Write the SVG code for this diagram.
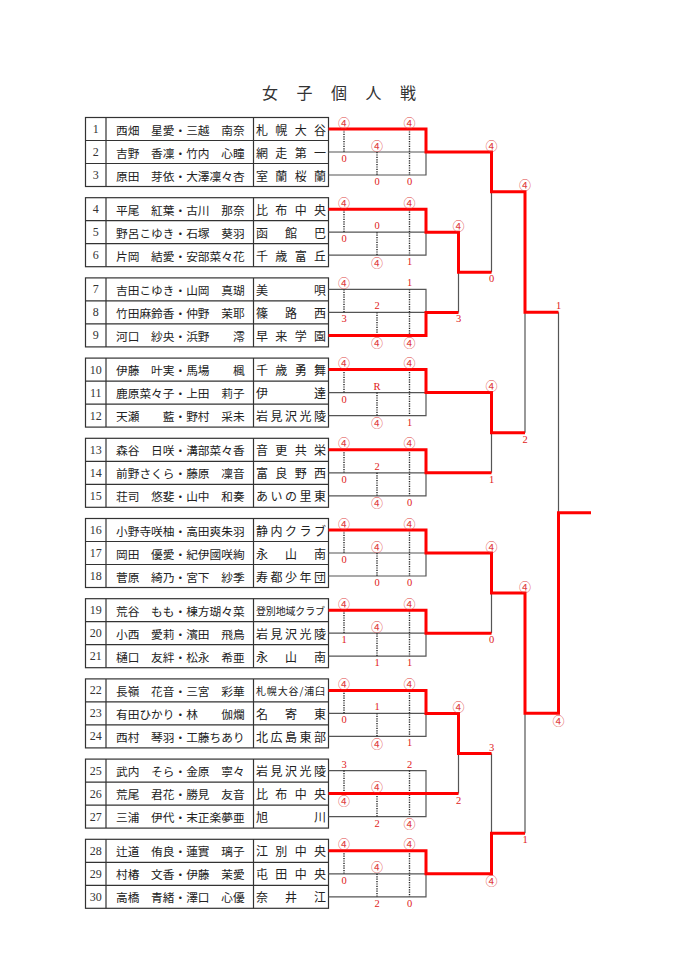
<svg xmlns="http://www.w3.org/2000/svg" width="678" height="960" viewBox="0 0 678 960">
<style>
.title{font-family:"Noto Sans CJK JP","Noto Sans CJK SC",sans-serif;font-size:16px;fill:#333;text-anchor:middle;dominant-baseline:central}
.tb{fill:none;stroke:#333;stroke-width:1.2}
.n{font-family:"Liberation Serif",serif;font-size:12px;fill:#333;text-anchor:middle;dominant-baseline:central}
.t{font-family:"Noto Sans CJK JP","Noto Sans CJK SC",sans-serif;font-size:11.7px;fill:#222;dominant-baseline:central}
.sc{font-family:"Noto Sans CJK JP","Noto Sans CJK SC",sans-serif;font-size:12px;fill:#222;dominant-baseline:central}
.sm{font-size:10px}
.g{fill:none;stroke:#555;stroke-width:1.2}
.r{fill:none;stroke:#f00;stroke-width:3;stroke-linejoin:miter}
.d{fill:none;stroke:#222;stroke-width:1.4;stroke-dasharray:1.2 1.2}
.s{font-family:"Liberation Serif","Noto Sans CJK JP",serif;font-size:10.5px;fill:#e02020;text-anchor:middle;dominant-baseline:central}
.s.c{font-family:"Noto Sans CJK JP",sans-serif;font-size:12px;fill:#e04040}
</style>
<rect width="678" height="960" fill="#fff"/>
<text class="title" x="270 304.5 339 373.5 408" y="92">女子個人戦</text>

<g id="pool-1">
<rect class="tb" x="85.5" y="117.5" width="243" height="69"/>
<path class="tb" d="M106 117.5V186.5M253.5 117.5V186.5M85.5 140.5H328.5M85.5 163.5H328.5"/>
<g id="e1"><text class="n" x="95.8" y="129">1</text><text class="t" x="116" y="129">西畑　星愛・三越　南奈</text><text class="sc" x="256" y="129" textLength="70" lengthAdjust="spacing">札幌大谷</text></g>
<g id="e2"><text class="n" x="95.8" y="152">2</text><text class="t" x="116" y="152">吉野　香凜・竹内　心瞳</text><text class="sc" x="256" y="152" textLength="70" lengthAdjust="spacing">網走第一</text></g>
<g id="e3"><text class="n" x="95.8" y="175">3</text><text class="t" x="116" y="175">原田　芽依・大澤凜々杏</text><text class="sc" x="256" y="175" textLength="70" lengthAdjust="spacing">室蘭桜蘭</text></g>
</g>

<g id="pool-2">
<rect class="tb" x="85.5" y="197.7" width="243" height="69"/>
<path class="tb" d="M106 197.7V266.7M253.5 197.7V266.7M85.5 220.7H328.5M85.5 243.7H328.5"/>
<g id="e4"><text class="n" x="95.8" y="209.2">4</text><text class="t" x="116" y="209.2">平尾　紅葉・古川　那奈</text><text class="sc" x="256" y="209.2" textLength="70" lengthAdjust="spacing">比布中央</text></g>
<g id="e5"><text class="n" x="95.8" y="232.2">5</text><text class="t" x="116" y="232.2">野呂こゆき・石塚　葵羽</text><text class="sc" x="256" y="232.2" textLength="70" lengthAdjust="spacing">函館巴</text></g>
<g id="e6"><text class="n" x="95.8" y="255.2">6</text><text class="t" x="116" y="255.2">片岡　結愛・安部菜々花</text><text class="sc" x="256" y="255.2" textLength="70" lengthAdjust="spacing">千歳富丘</text></g>
</g>

<g id="pool-3">
<rect class="tb" x="85.5" y="277.9" width="243" height="69"/>
<path class="tb" d="M106 277.9V346.9M253.5 277.9V346.9M85.5 300.9H328.5M85.5 323.9H328.5"/>
<g id="e7"><text class="n" x="95.8" y="289.4">7</text><text class="t" x="116" y="289.4">吉田こゆき・山岡　真瑚</text><text class="sc" x="256" y="289.4" textLength="70" lengthAdjust="spacing">美唄</text></g>
<g id="e8"><text class="n" x="95.8" y="312.4">8</text><text class="t" x="116" y="312.4">竹田麻鈴香・仲野　茉耶</text><text class="sc" x="256" y="312.4" textLength="70" lengthAdjust="spacing">篠路西</text></g>
<g id="e9"><text class="n" x="95.8" y="335.4">9</text><text class="t" x="116" y="335.4">河口　紗央・浜野　　澪</text><text class="sc" x="256" y="335.4" textLength="70" lengthAdjust="spacing">早来学園</text></g>
</g>

<g id="pool-4">
<rect class="tb" x="85.5" y="358.1" width="243" height="69"/>
<path class="tb" d="M106 358.1V427.1M253.5 358.1V427.1M85.5 381.1H328.5M85.5 404.1H328.5"/>
<g id="e10"><text class="n" x="95.8" y="369.6">10</text><text class="t" x="116" y="369.6">伊藤　叶実・馬場　　楓</text><text class="sc" x="256" y="369.6" textLength="70" lengthAdjust="spacing">千歳勇舞</text></g>
<g id="e11"><text class="n" x="95.8" y="392.6">11</text><text class="t" x="116" y="392.6">鹿原菜々子・上田　莉子</text><text class="sc" x="256" y="392.6" textLength="70" lengthAdjust="spacing">伊達</text></g>
<g id="e12"><text class="n" x="95.8" y="415.6">12</text><text class="t" x="116" y="415.6">天瀬　　藍・野村　采未</text><text class="sc" x="256" y="415.6" textLength="70" lengthAdjust="spacing">岩見沢光陵</text></g>
</g>

<g id="pool-5">
<rect class="tb" x="85.5" y="438.3" width="243" height="69"/>
<path class="tb" d="M106 438.3V507.3M253.5 438.3V507.3M85.5 461.3H328.5M85.5 484.3H328.5"/>
<g id="e13"><text class="n" x="95.8" y="449.8">13</text><text class="t" x="116" y="449.8">森谷　日咲・溝部菜々香</text><text class="sc" x="256" y="449.8" textLength="70" lengthAdjust="spacing">音更共栄</text></g>
<g id="e14"><text class="n" x="95.8" y="472.8">14</text><text class="t" x="116" y="472.8">前野さくら・藤原　凜音</text><text class="sc" x="256" y="472.8" textLength="70" lengthAdjust="spacing">富良野西</text></g>
<g id="e15"><text class="n" x="95.8" y="495.8">15</text><text class="t" x="116" y="495.8">荘司　悠斐・山中　和奏</text><text class="sc" x="256" y="495.8" textLength="70" lengthAdjust="spacing">あいの里東</text></g>
</g>

<g id="pool-6">
<rect class="tb" x="85.5" y="518.5" width="243" height="69"/>
<path class="tb" d="M106 518.5V587.5M253.5 518.5V587.5M85.5 541.5H328.5M85.5 564.5H328.5"/>
<g id="e16"><text class="n" x="95.8" y="530">16</text><text class="t" x="116" y="530">小野寺咲柚・高田爽朱羽</text><text class="sc" x="256" y="530" textLength="70" lengthAdjust="spacing">静内クラブ</text></g>
<g id="e17"><text class="n" x="95.8" y="553">17</text><text class="t" x="116" y="553">岡田　優愛・紀伊國咲絢</text><text class="sc" x="256" y="553" textLength="70" lengthAdjust="spacing">永山南</text></g>
<g id="e18"><text class="n" x="95.8" y="576">18</text><text class="t" x="116" y="576">菅原　綺乃・宮下　紗季</text><text class="sc" x="256" y="576" textLength="70" lengthAdjust="spacing">寿都少年団</text></g>
</g>

<g id="pool-7">
<rect class="tb" x="85.5" y="598.7" width="243" height="69"/>
<path class="tb" d="M106 598.7V667.7M253.5 598.7V667.7M85.5 621.7H328.5M85.5 644.7H328.5"/>
<g id="e19"><text class="n" x="95.8" y="610.2">19</text><text class="t" x="116" y="610.2">荒谷　もも・棟方瑚々菜</text><text class="sc sm" x="256" y="610.2" textLength="69" lengthAdjust="spacing">登別地域クラブ</text></g>
<g id="e20"><text class="n" x="95.8" y="633.2">20</text><text class="t" x="116" y="633.2">小西　愛莉・濱田　飛鳥</text><text class="sc" x="256" y="633.2" textLength="70" lengthAdjust="spacing">岩見沢光陵</text></g>
<g id="e21"><text class="n" x="95.8" y="656.2">21</text><text class="t" x="116" y="656.2">樋口　友絆・松永　希亜</text><text class="sc" x="256" y="656.2" textLength="70" lengthAdjust="spacing">永山南</text></g>
</g>

<g id="pool-8">
<rect class="tb" x="85.5" y="678.9" width="243" height="69"/>
<path class="tb" d="M106 678.9V747.9M253.5 678.9V747.9M85.5 701.9H328.5M85.5 724.9H328.5"/>
<g id="e22"><text class="n" x="95.8" y="690.4">22</text><text class="t" x="116" y="690.4">長嶺　花音・三宮　彩華</text><text class="sc sm" x="256" y="690.4" textLength="69" lengthAdjust="spacing">札幌大谷/浦臼</text></g>
<g id="e23"><text class="n" x="95.8" y="713.4">23</text><text class="t" x="116" y="713.4">有田ひかり・林　　伽爛</text><text class="sc" x="256" y="713.4" textLength="70" lengthAdjust="spacing">名寄東</text></g>
<g id="e24"><text class="n" x="95.8" y="736.4">24</text><text class="t" x="116" y="736.4">西村　琴羽・工藤ちあり</text><text class="sc" x="256" y="736.4" textLength="70" lengthAdjust="spacing">北広島東部</text></g>
</g>

<g id="pool-9">
<rect class="tb" x="85.5" y="759.1" width="243" height="69"/>
<path class="tb" d="M106 759.1V828.1M253.5 759.1V828.1M85.5 782.1H328.5M85.5 805.1H328.5"/>
<g id="e25"><text class="n" x="95.8" y="770.6">25</text><text class="t" x="116" y="770.6">武内　そら・金原　寧々</text><text class="sc" x="256" y="770.6" textLength="70" lengthAdjust="spacing">岩見沢光陵</text></g>
<g id="e26"><text class="n" x="95.8" y="793.6">26</text><text class="t" x="116" y="793.6">荒尾　君花・勝見　友音</text><text class="sc" x="256" y="793.6" textLength="70" lengthAdjust="spacing">比布中央</text></g>
<g id="e27"><text class="n" x="95.8" y="816.6">27</text><text class="t" x="116" y="816.6">三浦　伊代・末正楽夢亜</text><text class="sc" x="256" y="816.6" textLength="70" lengthAdjust="spacing">旭川</text></g>
</g>

<g id="pool-10">
<rect class="tb" x="85.5" y="839.3" width="243" height="69"/>
<path class="tb" d="M106 839.3V908.3M253.5 839.3V908.3M85.5 862.3H328.5M85.5 885.3H328.5"/>
<g id="e28"><text class="n" x="95.8" y="850.8">28</text><text class="t" x="116" y="850.8">辻道　侑良・蓮實　璃子</text><text class="sc" x="256" y="850.8" textLength="70" lengthAdjust="spacing">江別中央</text></g>
<g id="e29"><text class="n" x="95.8" y="873.8">29</text><text class="t" x="116" y="873.8">村椿　文香・伊藤　茉愛</text><text class="sc" x="256" y="873.8" textLength="70" lengthAdjust="spacing">屯田中央</text></g>
<g id="e30"><text class="n" x="95.8" y="896.8">30</text><text class="t" x="116" y="896.8">高橋　青緒・澤口　心優</text><text class="sc" x="256" y="896.8" textLength="70" lengthAdjust="spacing">奈井江</text></g>
</g>

<g id="connectors">
<path class="g" d="M328.5 129H426V175H328.5M328.5 152H426
M328.5 209.2H426V255.2H328.5M328.5 232.2H426
M328.5 289.4H426V335.4H328.5M328.5 312.4H426
M328.5 369.6H426V415.6H328.5M328.5 392.6H426
M328.5 449.8H426V495.8H328.5M328.5 472.8H426
M328.5 530H426V576H328.5M328.5 553H426
M328.5 610.2H426V656.2H328.5M328.5 633.2H426
M328.5 690.4H426V736.4H328.5M328.5 713.4H426
M328.5 770.6H426V816.6H328.5M328.5 793.6H426
M328.5 850.8H426V896.8H328.5M328.5 873.8H426
M458.5 232.2V312.4M491.5 152V272.3M491.5 392.6V472.8M525 191.7V432.7M558.5 312.2V713.2
M491.5 553V633.2M458.5 713.4V793.6M491.5 753.5V873.8M525 593.1V833.3"/>
<path class="d" d="M344 129V152M377 152V175M409.5 129V175
M344 209.2V232.2M377 232.2V255.2M409.5 209.2V255.2
M344 289.4V312.4M377 312.4V335.4M409.5 289.4V335.4
M344 369.6V392.6M377 392.6V415.6M409.5 369.6V415.6
M344 449.8V472.8M377 472.8V495.8M409.5 449.8V495.8
M344 530V553M377 553V576M409.5 530V576
M344 610.2V633.2M377 633.2V656.2M409.5 610.2V656.2
M344 690.4V713.4M377 713.4V736.4M409.5 690.4V736.4
M344 770.6V793.6M377 793.6V816.6M409.5 770.6V816.6
M344 850.8V873.8M377 873.8V896.8M409.5 850.8V896.8"/>
<path class="r" d="M328.5 129H426V152H491.5V191.7H525V312.2H558.5"/>
<path class="r" d="M328.5 209.2H426V232.2H458.5V272.3H491.5"/>
<path class="r" d="M328.5 335.4H426V312.4H458.5"/>
<path class="r" d="M328.5 369.6H426V392.6H491.5V432.7H525"/>
<path class="r" d="M328.5 449.8H426V472.8H491.5"/>
<path class="r" d="M328.5 530H426V553H491.5V593.1H525V713.2H558.5V512.7H591"/>
<path class="r" d="M328.5 610.2H426V633.2H491.5"/>
<path class="r" d="M328.5 690.4H426V713.4H458.5V753.5H491.5"/>
<path class="r" d="M328.5 793.6H458.5"/>
<path class="r" d="M328.5 850.8H426V873.8H491.5V833.3H525"/>
</g>

<g id="scores">
<text class="s c" x="344" y="122">④</text><text class="s" x="344" y="158.5">0</text><text class="s c" x="377" y="145">④</text><text class="s" x="377" y="181.5">0</text><text class="s c" x="409.5" y="122">④</text><text class="s" x="409.5" y="181.5">0</text>
<text class="s c" x="344" y="202.2">④</text><text class="s" x="344" y="238.7">0</text><text class="s" x="377" y="225.7">0</text><text class="s c" x="377" y="262.2">④</text><text class="s c" x="409.5" y="202.2">④</text><text class="s" x="409.5" y="261.7">1</text>
<text class="s c" x="344" y="282.4">④</text><text class="s" x="344" y="318.9">3</text><text class="s" x="377" y="305.9">2</text><text class="s c" x="377" y="342.4">④</text><text class="s" x="409.5" y="282.9">1</text><text class="s c" x="409.5" y="342.4">④</text>
<text class="s c" x="344" y="362.6">④</text><text class="s" x="344" y="399.1">0</text><text class="s" x="377" y="386.1">R</text><text class="s c" x="377" y="422.6">④</text><text class="s c" x="409.5" y="362.6">④</text><text class="s" x="409.5" y="422.1">1</text>
<text class="s c" x="344" y="442.8">④</text><text class="s" x="344" y="479.3">0</text><text class="s" x="377" y="466.3">2</text><text class="s c" x="377" y="502.8">④</text><text class="s c" x="409.5" y="442.8">④</text><text class="s" x="409.5" y="502.3">0</text>
<text class="s c" x="344" y="523">④</text><text class="s" x="344" y="559.5">0</text><text class="s c" x="377" y="546">④</text><text class="s" x="377" y="582.5">0</text><text class="s c" x="409.5" y="523">④</text><text class="s" x="409.5" y="582.5">0</text>
<text class="s c" x="344" y="603.2">④</text><text class="s" x="344" y="639.7">1</text><text class="s c" x="377" y="626.2">④</text><text class="s" x="377" y="662.7">1</text><text class="s c" x="409.5" y="603.2">④</text><text class="s" x="409.5" y="662.7">1</text>
<text class="s c" x="344" y="683.4">④</text><text class="s" x="344" y="719.9">0</text><text class="s" x="377" y="706.9">1</text><text class="s c" x="377" y="743.4">④</text><text class="s c" x="409.5" y="683.4">④</text><text class="s" x="409.5" y="742.9">1</text>
<text class="s" x="344" y="764.1">3</text><text class="s c" x="344" y="800.6">④</text><text class="s c" x="377" y="786.6">④</text><text class="s" x="377" y="823.1">2</text><text class="s" x="409.5" y="764.1">2</text><text class="s c" x="409.5" y="823.6">④</text>
<text class="s c" x="344" y="843.8">④</text><text class="s" x="344" y="880.3">0</text><text class="s c" x="377" y="866.8">④</text><text class="s" x="377" y="903.3">2</text><text class="s c" x="409.5" y="843.8">④</text><text class="s" x="409.5" y="903.3">0</text>
<text class="s c" x="458.5" y="225.2">④</text><text class="s" x="458.5" y="318.9">3</text>
<text class="s c" x="491.5" y="145">④</text><text class="s" x="491.5" y="278.8">0</text>
<text class="s c" x="491.5" y="385.6">④</text><text class="s" x="491.5" y="479.3">1</text>
<text class="s c" x="525" y="184.7">④</text><text class="s" x="525" y="439.2">2</text>
<text class="s" x="558.5" y="305.7">1</text><text class="s c" x="558.5" y="720.2">④</text>
<text class="s c" x="491.5" y="546">④</text><text class="s" x="491.5" y="639.7">0</text>
<text class="s c" x="458.5" y="706.4">④</text><text class="s" x="458.5" y="800.1">2</text>
<text class="s" x="491.5" y="747">3</text><text class="s c" x="491.5" y="880.8">④</text>
<text class="s c" x="525" y="586.1">④</text><text class="s" x="525" y="839.8">1</text>
</g>
</svg>
